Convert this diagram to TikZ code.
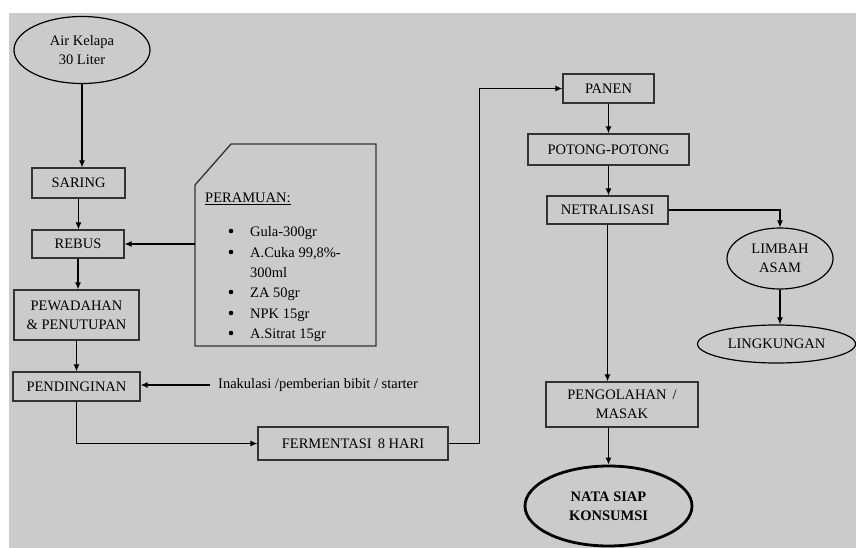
\documentclass[tikz,border=0pt]{standalone}
\usepackage{fontspec}
\setmainfont{Liberation Serif}
\usetikzlibrary{arrows.meta,shapes.geometric}
\definecolor{bg}{HTML}{CBCBCB}
\begin{document}
\begin{tikzpicture}[x=1pt,y=-1pt,
  every node/.style={font=\fontsize{14.5}{19}\selectfont, inner sep=0pt, align=center},
  box/.style={draw=black!80, line width=1.3pt},
  oval/.style={draw, ellipse, line width=1.2pt},
  conn/.style={line width=1.1pt},
  arr/.style={conn, -{Latex[length=7pt,width=6pt]}},
  item/.style={anchor=base west, align=left},
  dot/.style={circle, fill=black, minimum size=4.6pt}]
\useasboundingbox (0,0) rectangle (856,548);
\fill[bg] (9,13) rectangle (856,548);
% left column
\node[oval, minimum width=136pt, minimum height=67pt] (air) at (82,50) {Air Kelapa\\30 Liter};
\node[box, minimum width=93pt, minimum height=30pt] (saring) at (78.5,183) {SARING};
\node[box, minimum width=92pt, minimum height=28pt] (rebus) at (78,244) {REBUS};
\node[box, minimum width=125pt, minimum height=50pt] (wadah) at (76.5,315) {PEWADAHAN\\\& PENUTUPAN};
\node[box, minimum width=127pt, minimum height=29pt] (pend) at (76.5,386.5) {PENDINGINAN};
\node[anchor=west] (inak) at (218,385) {Inakulasi /pemberian bibit / starter};
\node[box, minimum width=190pt, minimum height=33pt] (ferm) at (353,443.5) {FERMENTASI\ \,8 HARI};
% peramuan box
\draw[box] (195,185) -- (231,144) -- (376,144) -- (376,346) -- (195,346) -- cycle;
\coordinate (peraml) at (195,244);
\node[item] (peram) at (205,203) {\underline{PERAMUAN:}};
\node[dot] (b1) at (231,231) {};
\node[item] (i1) at (250,236) {Gula-300gr};
\node[dot] (b2) at (231,252) {};
\node[item] (i2) at (250,257) {A.Cuka 99,8\%-};
\node[item] (i2b) at (250,277) {300ml};
\node[dot] (b3) at (231,292) {};
\node[item] (i3) at (250,297) {ZA 50gr};
\node[dot] (b4) at (231,313) {};
\node[item] (i4) at (250,318) {NPK 15gr};
\node[dot] (b5) at (231,333) {};
\node[item] (i5) at (250,338) {A.Sitrat 15gr};
% right column
\node[box, minimum width=91pt, minimum height=29pt] (panen) at (608.5,88.5) {PANEN};
\node[box, minimum width=161pt, minimum height=31pt] (potong) at (608.5,149.5) {POTONG-POTONG};
\node[box, minimum width=121pt, minimum height=28pt] (netral) at (607.5,210) {NETRALISASI};
\node[oval, minimum width=106pt, minimum height=61pt] (limbah) at (780,258.5) {LIMBAH\\ASAM};
\node[oval, minimum width=158pt, minimum height=38pt] (ling) at (776.5,344) {LINGKUNGAN};
\node[box, minimum width=152pt, minimum height=45pt] (olah) at (622,404.5) {PENGOLAHAN \,/\\MASAK};
\node[oval, line width=2.8pt, minimum width=167pt, minimum height=80pt, font=\fontsize{14.5}{19}\selectfont\bfseries] (nata) at (608.5,506) {NATA SIAP\\KONSUMSI};
% connectors
\draw[arr] (air.south) -- (air.south |- saring.north);
\draw[arr] (saring.south) -- (saring.south |- rebus.north);
\draw[arr] (rebus.south) -- (rebus.south |- wadah.north);
\draw[arr] (wadah.south) -- (wadah.south |- pend.north);
\draw[arr] (peraml) -- (rebus.east);
\draw[arr] ([xshift=-8pt]inak.west) -- (inak.west -| pend.east);
\draw[arr] (pend.south) |- (ferm.west);
\draw[arr] (ferm.east) -- ++(31,0) |- (panen.west);
\draw[arr] (panen.south) -- (panen.south |- potong.north);
\draw[arr] (potong.south) -- (potong.south |- netral.north);
\draw[arr] (netral.east) -| (limbah.north);
\draw[arr] (limbah.south) -- (ling.north -| limbah.south);
\draw[arr] (netral.south) -- (netral.south |- olah.north);
\draw[arr] (nata.north |- olah.south) -- (nata.north);
\end{tikzpicture}
\end{document}
